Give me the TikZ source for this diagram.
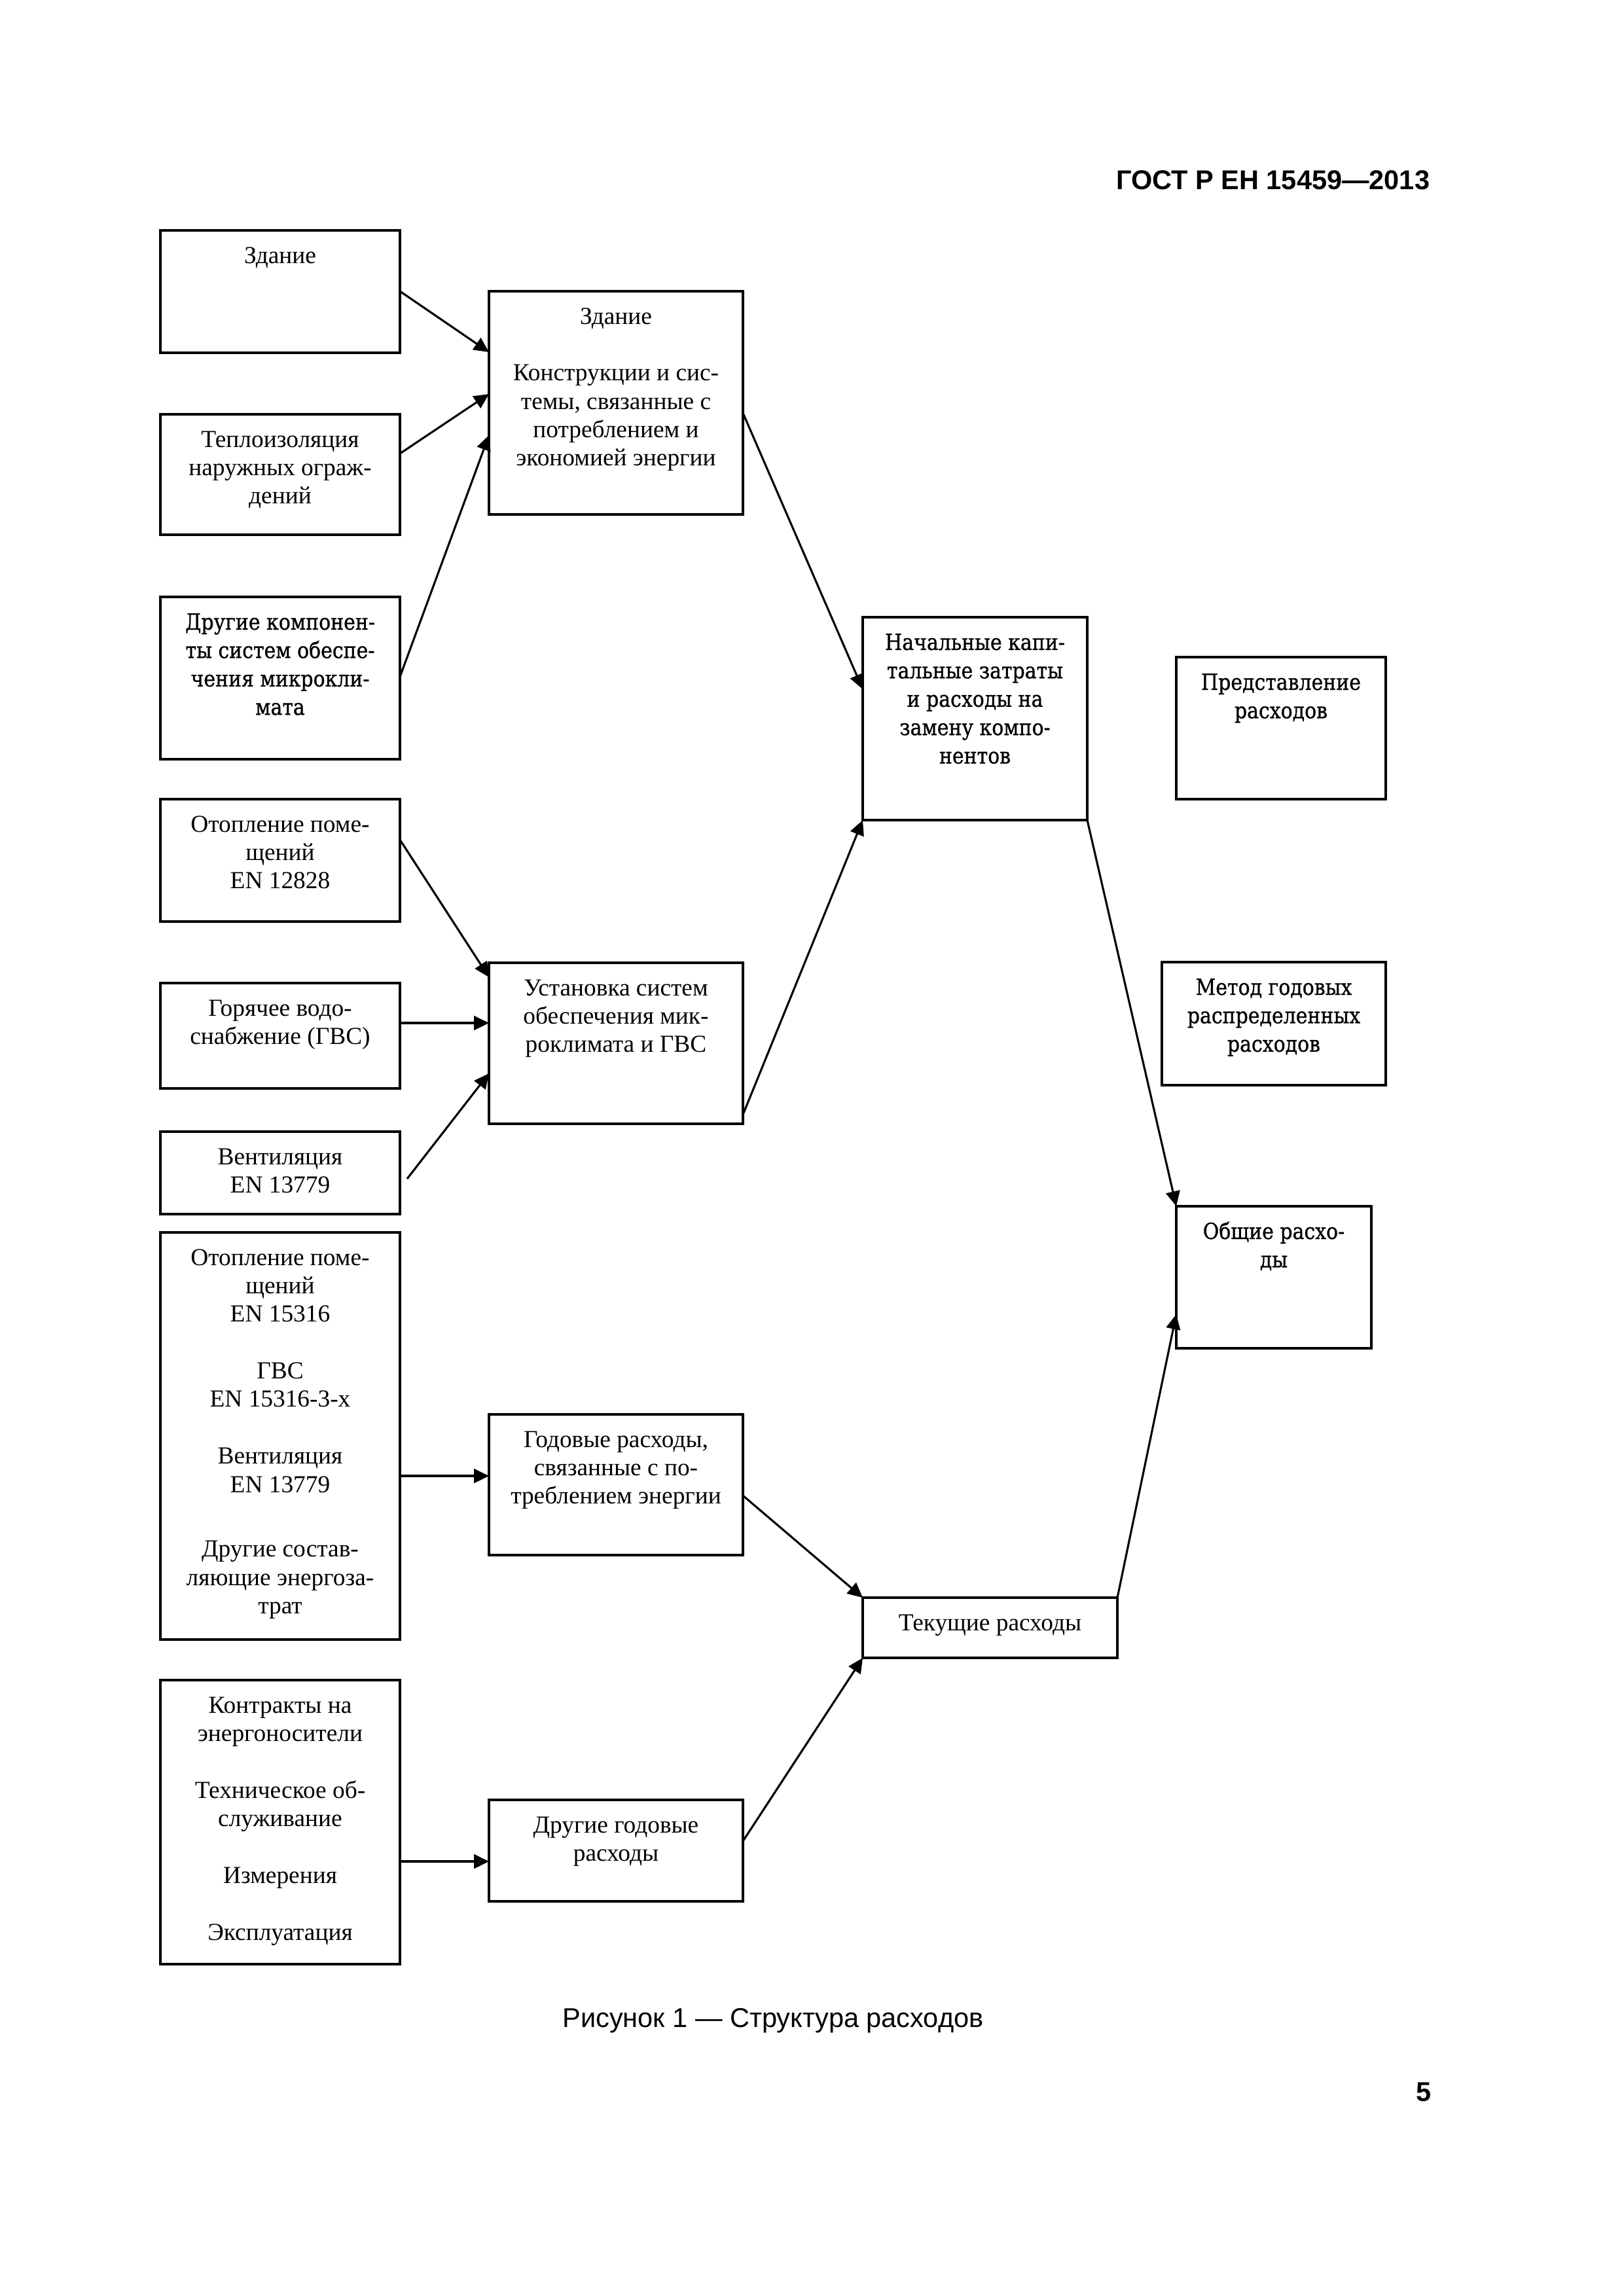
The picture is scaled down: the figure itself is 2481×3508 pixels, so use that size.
\documentclass[tikz,border=0pt]{standalone}
\usepackage{fontspec}
\setmainfont{Liberation Serif}
\newfontfamily\arialf{Liberation Sans}
\newfontfamily\centf[FakeStretch=0.88,FakeBold=0.8]{DejaVu Serif}
\usetikzlibrary{arrows.meta,calc}
\newdimen\pxu \pxu=0.0846667mm
\newcommand\tmsz{\fontsize{9pt}{10.45pt}\selectfont}
\newcommand\cnsz{\centf\fontsize{8.2pt}{10.45pt}\selectfont}
% name, x1, y1, x2, y2, font, text
\newcommand\mkbox[7]{%
  \node[boxs, font=#6] (#1) at (#2,#3)
  {\parbox[c][\dimexpr #5\pxu - #3\pxu\relax][t]{\dimexpr #4\pxu - #2\pxu\relax}{\centering\rule{0pt}{50\pxu}#7}};}
\begin{document}
\begin{tikzpicture}[x=\pxu, y=-\pxu,
  boxs/.style={draw, line width=0.75pt, inner sep=0pt, outer sep=0pt, anchor=north west},
  arr/.style={line width=0.75pt, -{Triangle[length=5.5pt,width=5.2pt]}}]
\fill[white] (0,0) rectangle (2481,3508);
\path[use as bounding box] (0,0) rectangle (2481,3508);

% header / footer
\node[anchor=base east, inner sep=0, font=\arialf\bfseries\fontsize{10pt}{12pt}\selectfont] (hdr) at (2185,289) {ГОСТ Р ЕН 15459—2013};
\node[anchor=base, inner sep=0, font=\arialf\fontsize{10pt}{12pt}\selectfont] (cap) at (1181,3097) {Рисунок 1 — Структура расходов};
\node[anchor=base east, inner sep=0, font=\arialf\bfseries\fontsize{10pt}{12pt}\selectfont] (pg) at (2187,3210) {5};

% left column
\mkbox{B1}{245}{352}{611}{539}{\tmsz}{Здание}
\mkbox{B2}{245}{633}{611}{817}{\tmsz}{Теплоизоляция\\ наружных ограж-\\ дений}
\mkbox{B3}{245}{912}{611}{1160}{\cnsz}{Другие компонен-\\ ты систем обеспе-\\ чения микрокли-\\ мата}
\mkbox{B4}{245}{1221}{611}{1408}{\tmsz}{Отопление поме-\\ щений\\ EN 12828}
\mkbox{B5}{245}{1502}{611}{1663}{\tmsz}{Горячее водо-\\ снабжение (ГВС)}
\mkbox{B6}{245}{1729}{611}{1855}{\tmsz}{Вентиляция\\ EN 13779}
\mkbox{B7}{245}{1883}{611}{2505}{\tmsz}{Отопление поме-\\ щений\\ EN 15316\\[10.45pt] ГВС\\ EN 15316-3-x\\[10.45pt] Вентиляция\\ EN 13779\\[13.3pt] Другие состав-\\ ляющие энергоза-\\ трат}
\mkbox{B8}{245}{2567}{611}{3001}{\tmsz}{Контракты на\\ энергоносители\\[10.45pt] Техническое об-\\ служивание\\[10.45pt] Измерения\\[10.45pt] Эксплуатация}

% middle column
\mkbox{M1}{747}{445}{1135}{786}{\tmsz}{Здание\\[10.45pt] Конструкции и сис-\\ темы, связанные с\\ потреблением и\\ экономией энергии}
\mkbox{M2}{747}{1471}{1135}{1717}{\tmsz}{Установка систем\\ обеспечения мик-\\ роклимата и ГВС}
\mkbox{M3}{747}{2161}{1135}{2376}{\tmsz}{Годовые расходы,\\ связанные с по-\\ треблением энергии}
\mkbox{M4}{747}{2750}{1135}{2905}{\tmsz}{Другие годовые\\ расходы}

% right-middle column
\mkbox{N}{1318}{943}{1661}{1253}{\cnsz}{Начальные капи-\\ тальные затраты\\ и расходы на\\ замену компо-\\ нентов}
\mkbox{T}{1318}{2441}{1707}{2533}{\tmsz}{Текущие расходы}

% right column
\mkbox{P}{1797}{1004}{2117}{1221}{\cnsz}{Представление\\ расходов}
\mkbox{Mt}{1775}{1470}{2117}{1658}{\cnsz}{Метод годовых\\ распределенных\\ расходов}
\mkbox{O}{1797}{1843}{2095}{2060}{\cnsz}{Общие расхо-\\ ды}

% connectors
\draw[arr] ($(B1.north east)+(0,93)$) -- ($(M1.north west)+(0,93)$);
\draw[arr] ($(B2.north east)+(0,60)$) -- ($(M1.north west)+(0,157)$);
\draw[arr] ($(B3.north east)+(0,122)$) -- ($(M1.north west)+(0,220)$);
\draw[arr] ($(B4.north east)+(0,62)$) -- ($(M2.north west)+(0,22)$);
\draw[arr] ($(B5.north east)+(0,61)$) -- ($(M2.north west)+(0,92)$);
\draw[arr] ($(B6.north east)+(11,72)$) -- ($(M2.north west)+(0,169)$);
\draw[arr] ($(M1.north east)+(0,186)$) -- ($(N.north west)+(0,110)$);
\draw[arr] ($(M2.north east)+(0,232)$) -- (N.south west);
\draw[arr] (N.south east) -- (O.north west);
\draw[arr] ($(B7.north east)+(0,372)$) -- ($(M3.north west)+(0,94)$);
\draw[arr] ($(M3.north east)+(0,124)$) -- (T.north west);
\draw[arr] ($(B8.north east)+(0,277)$) -- ($(M4.north west)+(0,94)$);
\draw[arr] ($(M4.north east)+(0,63)$) -- (T.south west);
\draw[arr] (T.north east) -- ($(O.north west)+(0,165)$);
\end{tikzpicture}
\end{document}
